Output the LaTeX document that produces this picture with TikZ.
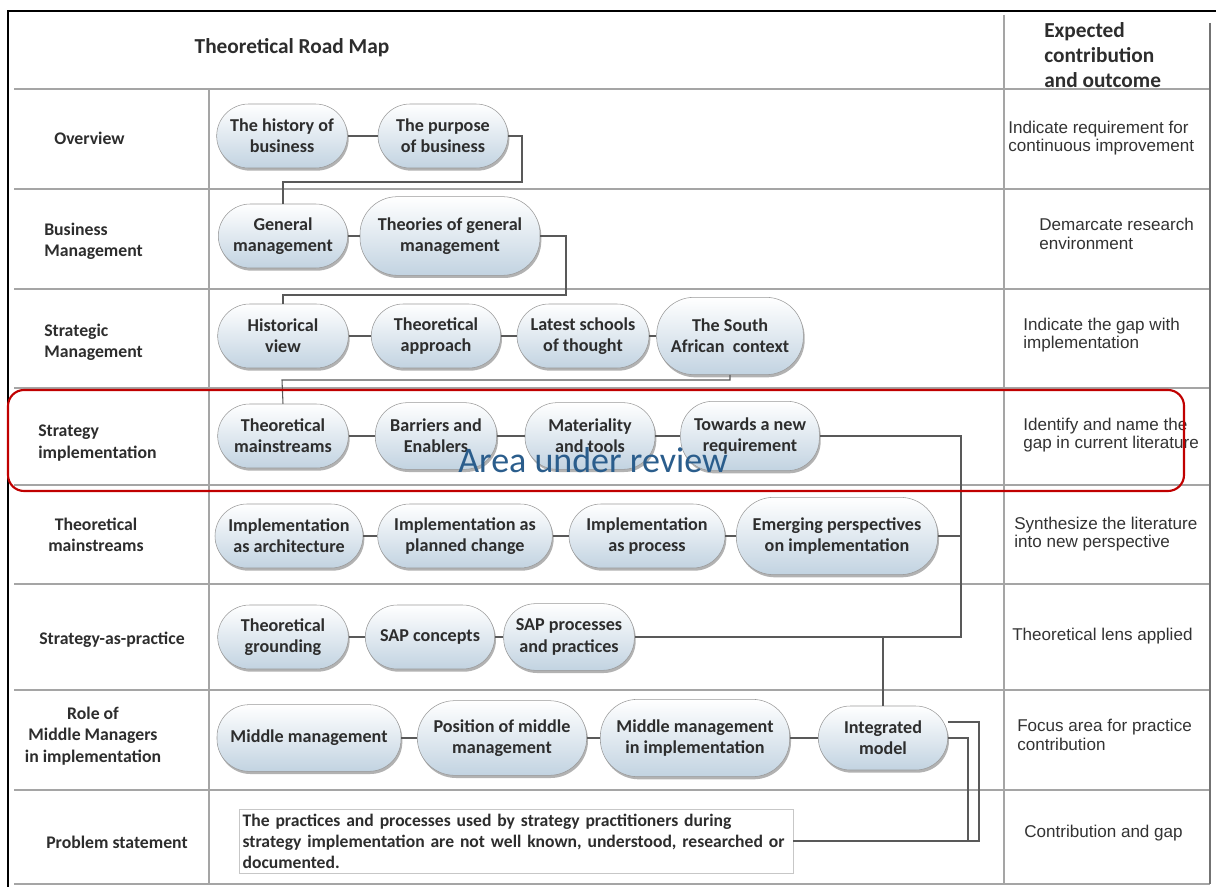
\documentclass[tikz,border=0pt]{standalone}
\usepackage{fontspec}
\setmainfont{Carlito}
\newfontfamily\arialf{Liberation Sans}
\usetikzlibrary{shadows}
\definecolor{pillblue}{RGB}{194,211,225}
\definecolor{linegray}{RGB}{165,165,165}
\definecolor{txtgray}{RGB}{45,45,45}
\definecolor{areablue}{RGB}{42,93,140}
\definecolor{boxred}{RGB}{192,0,0}

\begin{document}
\begin{tikzpicture}[x=0.75pt, y=-0.75pt,
  pill/.style={draw=black!40, rounded corners=24pt, top color=white, bottom color=pillblue,
    minimum height=48pt, inner sep=1pt, align=center, text=txtgray,
    font=\fontsize{13.6}{16}\selectfont\bfseries,
    drop shadow={shadow xshift=1pt, shadow yshift=-2pt, fill=black, opacity=.3}},
  tall/.style={rounded corners=28pt},
  rowlab/.style={text=txtgray, font=\fontsize{13.3}{16}\selectfont\bfseries, inner sep=0pt},
  outtxt/.style={anchor=west, align=left, inner sep=0pt, text=black!80,
    font=\arialf\fontsize{12.8}{14}\selectfont},
  tabline/.style={linegray, line width=1.1pt},
  link/.style={black!65, line width=0.8pt}]
\fill[white] (0,0) rectangle (1216,887);
\useasboundingbox (0,0) rectangle (1216,887);

% table
\foreach \y in {89,189,289,388,485,584,690,790,884}
  \draw[tabline] (14,\y) -- (1210,\y);
\draw[tabline] (209,89) -- (209,884);
\draw[tabline] (1004,15) -- (1004,884);
\draw[black!55, line width=1.5pt] (1210,23) -- (1210,884);
\draw[black, line width=2.2pt] (1216,11) -- (8,11) -- (8,887);

% headers
\node[rowlab, font=\fontsize{16}{19}\selectfont\bfseries] (head) at (292,48) {Theoretical Road Map};
\node[rowlab, anchor=west, align=left, font=\fontsize{16}{19}\selectfont\bfseries] (outhead) at (1044,55) {Expected\\contribution\\and outcome};

% row labels
\node[rowlab, anchor=west] (r1) at (54,138) {Overview};
\node[rowlab, anchor=west, align=left] (r2) at (44,241) {Business\\Management};
\node[rowlab, anchor=west, align=left] (r3) at (44,342) {Strategic\\Management};
\node[rowlab, anchor=west, align=left] (r4) at (38,443) {Strategy\\implementation};
\node[rowlab, align=center] (r5) at (96,535) {Theoretical\\mainstreams};
\node[rowlab] (r6) at (112,640) {Strategy-as-practice};
\node[rowlab, align=center] (r7) at (93,736) {Role of\\Middle Managers\\in implementation};
\node[rowlab] (r8) at (117,842) {Problem statement};

% expected outcomes
\node[outtxt] (o1) at (1008,138) {Indicate requirement for\\continuous improvement};
\node[outtxt] (o2) at (1039,234) {Demarcate research\\ environment};
\node[outtxt] (o3) at (1023,335) {Indicate the gap with\\implementation};
\node[outtxt] (o4) at (1023,435) {Identify and name the\\gap in current literature};
\node[outtxt] (o5) at (1014,534) {Synthesize the literature\\into new perspective};
\node[outtxt] (o6) at (1012,636) {Theoretical lens applied};
\node[outtxt] (o7) at (1017,735) {Focus area for practice\\contribution};
\node[outtxt] (o8) at (1024,833) {Contribution and gap};

% road map
\node[pill, minimum width=98pt] (hist) at (282,136) {The history of\\business};
\node[pill, minimum width=97.5pt] (purp) at (443,136) {The purpose\\of business};
\node[pill, minimum width=97pt] (genm) at (283,236) {General\\management};
\node[pill, tall, minimum width=135pt, minimum height=59pt] (theo) at (450,236) {Theories of general\\management};
\node[pill, minimum width=98pt] (hview) at (283,336) {Historical\\view};
\node[pill, minimum width=97pt] (tappr) at (436,336) {Theoretical\\approach};
\node[pill, minimum width=99pt] (lsch) at (583,336) {Latest schools\\of thought};
\node[pill, tall, minimum width=110pt, minimum height=58pt] (sact) at (730,336) {The South\\African~ context};
\node[pill, minimum width=98pt] (tmain) at (283,436) {Theoretical\\mainstreams};
\node[pill, minimum width=91pt, minimum height=50pt] (barr) at (436,436) {Barriers and\\Enablers};
\node[pill, minimum width=97.5pt, minimum height=50pt] (mat) at (590,436) {Materiality\\and tools};
\node[pill, minimum width=104pt, minimum height=52pt] (towd) at (750,436) {Towards a new\\requirement};
\node[pill, minimum width=111pt] (iarch) at (289,536) {Implementation\\as architecture};
\node[pill, minimum width=131pt] (iplan) at (465,536) {Implementation as\\planned change};
\node[pill, minimum width=117pt] (iproc) at (647,536) {Implementation\\as process};
\node[pill, tall, minimum width=151pt, minimum height=58pt] (emer) at (837,536) {Emerging perspectives\\on implementation};
\node[pill, minimum width=98pt] (tgrd) at (283,637) {Theoretical\\grounding};
\node[pill, minimum width=97pt] (sapc) at (430,637) {SAP concepts};
\node[pill, minimum width=98pt, minimum height=50pt] (sapp) at (569,637) {SAP processes\\and practices};
\node[pill, minimum width=138pt, minimum height=50pt] (midm) at (309,738) {Middle management};
\node[pill, tall, minimum width=127pt, minimum height=56pt] (posm) at (502,738) {Position of middle\\management};
\node[pill, tall, minimum width=142pt, minimum height=58pt] (mmimp) at (695,738) {Middle management\\in implementation};
\node[pill, minimum width=97pt] (intm) at (883,738) {Integrated\\model};
\node[draw=black!22, minimum width=415.5pt, minimum height=48pt, inner xsep=2pt, text width=410pt,
  align=left, text=txtgray, font=\fontsize{13.2}{15.75}\selectfont\bfseries] (prob) at (516,841)
  {The practices and processes used by strategy practitioners during\\strategy implementation are not well known, understood, researched or\\documented.};

% links
\coordinate (k1) at (522,182);
\coordinate (k2) at (566,295);
\coordinate (k3) at (282,380);
\coordinate (k4) at (961,637);
\coordinate (k5) at (883,637);
\coordinate (k6) at (979,841);
\coordinate (k7) at (968,841);
\draw[link] (hist) -- (purp);
\draw[link] (purp.east) -| (k1) -| (genm.north);
\draw[link] (genm) -- (theo);
\draw[link] (theo.east) -| (k2) -| (hview.north);
\draw[link] (hview) -- (tappr) -- (lsch) -- (sact);
\draw[link] (sact.south) |- (k3) -- (tmain.north);
\draw[link] (tmain) -- (barr) -- (mat) -- (towd);
\draw[link] (towd.east) -| (k4) -- (sapp.east);
\draw[link] (iarch) -- (iplan) -- (iproc) -- (emer);
\draw[link] (emer.east) -- (emer.east -| k4);
\draw[link] (tgrd) -- (sapc) -- (sapp);
\draw[link] (k5) -- (intm.north);
\draw[link] (midm) -- (posm) -- (mmimp) -- (intm);
\draw[link] ([yshift=12pt]intm.east) -| (k6) -- (prob.east);
\draw[link] (intm.east) -| (k7);

% focus
\draw[boxred, line width=1.6pt, rounded corners=12pt] (8,390) rectangle (1184,491);
\node[anchor=base, inner sep=0pt, text=areablue, font=\fontsize{27}{30}\selectfont] (area) at (593,472) {Area under review};
\end{tikzpicture}
\end{document}
